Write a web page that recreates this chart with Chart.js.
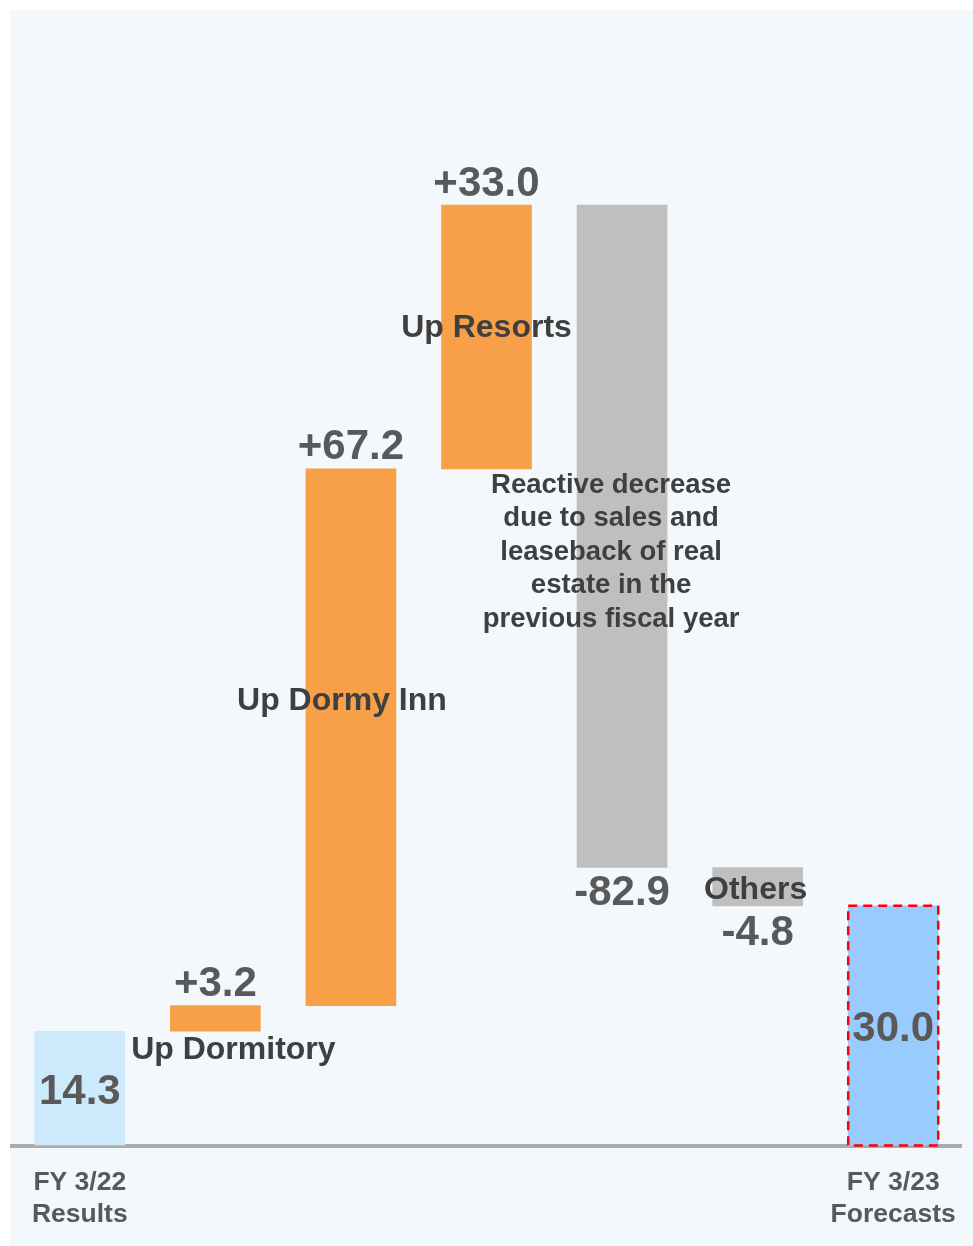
<!DOCTYPE html>
<html>
<head>
<meta charset="utf-8">
<script src="https://cdn.jsdelivr.net/npm/chart.js@4"></script>
<style>
	html, body { margin: 0; padding: 0; background: #ffffff; }
	#wrap { position: relative; width: 973px; height: 1246px; }
	#panel { position: absolute; left: 10px; top: 10px; right: 0; bottom: 0; background: #f3f8fc; }
	canvas { position: absolute; left: 0; top: 0; }
</style>
</head>
<body>
<div id="wrap">
	<div id="panel"></div>
	<canvas id="chart" width="973" height="1246"></canvas>
</div>
<script>
var categories = ['Results', 'Dormitory', 'Dormy Inn', 'Resorts', 'Reactive decrease', 'Others', 'Forecasts'];
var tickLabels = [['FY 3/22', 'Results'], '', '', '', '', '', ['FY 3/23', 'Forecasts']];
var changes = [14.3, 3.2, 67.2, 33.0, -82.9, -4.8, 30.0];
var isTotal = [true, false, false, false, false, false, true];
var valueLabels = ['14.3', '+3.2', '+67.2', '+33.0', '-82.9', '-4.8', '30.0'];
var itemLabels = ['', 'Up Dormitory', 'Up Dormy Inn', 'Up Resorts',
	'Reactive decrease\ndue to sales and\nleaseback of real\nestate in the\nprevious fiscal year', 'Others', ''];
var barColors = ['#cdeafd', '#f8a048', '#f8a048', '#f8a048', '#bfbfbf', '#bfbfbf', '#99cbff'];

// waterfall ranges from running total
var ranges = [];
var running = 0;
for (var i = 0; i < changes.length; i++) {
	if (isTotal[i]) {
		ranges.push([0, changes[i]]);
		running = changes[i];
	} else {
		var next = Math.round((running + changes[i]) * 10) / 10;
		ranges.push([Math.min(running, next), Math.max(running, next)]);
		running = next;
	}
}

var FONT = '"Liberation Sans", Arial, sans-serif';

function drawText(ctx, text, x, y, size, color) {
	ctx.font = 'bold ' + size + 'px ' + FONT;
	ctx.fillStyle = color;
	ctx.textAlign = 'center';
	ctx.textBaseline = 'middle';
	var lines = text.split('\n');
	for (var k = 0; k < lines.length; k++) {
		ctx.fillText(lines[k], x, y + k * 33.5);
	}
}

var labelPlugin = {
	id: 'waterfallLabels',
	afterDatasetsDraw: function (chart) {
		var ctx = chart.ctx;
		var bars = chart.getDatasetMeta(0).data;
		ctx.save();

		// dashed outline on forecast bar
		var f = bars[6];
		ctx.strokeStyle = '#ff0000';
		ctx.lineWidth = 2.5;
		ctx.setLineDash([9, 6]);
		ctx.strokeRect(f.x - f.width / 2, f.y, f.width, f.base - f.y);
		ctx.setLineDash([]);

		var valueColor = '#595959';
		var textColor = '#3f3f3f';
		bars.forEach(function (bar, i) {
			var top = Math.min(bar.y, bar.base);
			var bottom = Math.max(bar.y, bar.base);
			var mid = (top + bottom) / 2;
			var vy;
			if (isTotal[i]) vy = mid + 4;
			else if (changes[i] >= 0) vy = top - 21;
			else vy = bottom + (i === 5 ? 28 : 26);
			drawText(ctx, valueLabels[i], bar.x, vy, 42, valueColor);
		});

		drawText(ctx, itemLabels[1], bars[1].x + 18, bars[1].base + 19, 32, textColor);
		drawText(ctx, itemLabels[2], bars[2].x - 9, (bars[2].y + bars[2].base) / 2 - 36, 32, textColor);
		drawText(ctx, itemLabels[3], bars[3].x, (bars[3].y + bars[3].base) / 2 - 9, 32, textColor);
		drawText(ctx, itemLabels[4], bars[4].x - 11, Math.min(bars[4].y, bars[4].base) + 280, 27.5, textColor);
		drawText(ctx, itemLabels[5], bars[5].x - 2, (bars[5].y + bars[5].base) / 2 + 4, 32, textColor);

		ctx.restore();
	}
};

new Chart(document.getElementById('chart'), {
	type: 'bar',
	data: {
		labels: tickLabels,
		datasets: [{
			label: 'Change',
			data: ranges,
			backgroundColor: barColors,
			borderWidth: 0,
			barThickness: 90
		}]
	},
	options: {
		responsive: false,
		animation: false,
		layout: { padding: { left: 12, right: 12, top: 27, bottom: 0 } },
		plugins: {
			legend: { display: false },
			tooltip: { enabled: false }
		},
		scales: {
			x: {
				grid: { display: false, drawTicks: false },
				border: { color: '#aeaaaa', width: 4 },
				ticks: {
					padding: 21,
					color: '#595959',
					font: { family: FONT, size: 26.5, weight: 'bold', lineHeight: 1.2 },
					maxRotation: 0,
					autoSkip: false
				},
				afterFit: function (scale) {
					scale.height = 100.5;
					scale.paddingLeft = 0;
					scale.paddingRight = 0;
				}
			},
			y: {
				display: false,
				min: 0,
				max: 140
			}
		}
	},
	plugins: [labelPlugin]
});
</script>
</body>
</html>
